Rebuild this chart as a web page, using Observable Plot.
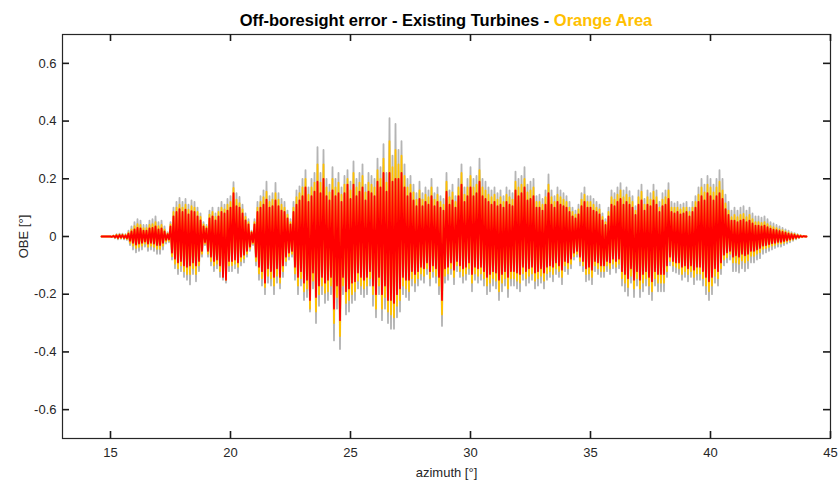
<!DOCTYPE html>
<html><head><meta charset="utf-8">
<script src="https://cdn.jsdelivr.net/npm/d3@7"></script>
<script src="https://cdn.jsdelivr.net/npm/@observablehq/plot@0.6"></script>
<style>body{margin:0;background:#fff}svg{display:block}</style>
</head><body><div id="chart"></div>
<script>
// Sampled azimuth grid (degrees)
const azimuthStart = 14.625;
const azimuthStep = 0.0625;

// OBE [°] signal; after the lead-in, one row per degree (16 samples)
const obeGray = [
  0, 0, 0, 0, 0, 0,
  0, -.002, .004, -.006, .008, -.01, .01, -.008, .01, -.01, .008, -.012, .02, -.03, .035, -.045,
  .05, -.055, .06, -.05, .055, -.045, .04, -.035, .04, -.05, .055, -.045, .06, -.05, .07, -.06,
  .05, -.06, .055, -.045, .035, -.025, .015, -.02, .05, -.08, .1, -.11, .12, -.13, .134, -.12,
  .12, -.14, .13, -.15, .11, -.166, .125, -.13, .12, -.155, .1, -.12, .08, -.07, .05, -.03,
  .04, -.07, .09, -.1, .1, -.12, .08, -.11, .1, -.14, .12, -.15, .11, -.16, .13, -.12,
  .14, -.12, .188, -.11, .15, -.126, .137, -.1, .11, -.09, .08, -.07, .06, -.05, .02, -.03,
  .06, -.1, .12, -.15, .14, -.17, .16, -.2, .19, -.16, .14, -.17, .15, -.2, .186, -.16,
  .15, -.18, .13, -.14, .12, -.1, .09, -.08, .06, -.07, .12, -.15, .16, -.2, .174, -.17,
  .2, -.22, .23, -.21, .17, -.26, .2, -.18, .22, -.3, .31, -.24, .22, -.2, .3, -.23,
  .2, -.22, .18, -.2, .24, -.36, .2, -.25, .22, -.39, .17, -.2, .21, -.27, .23, -.26,
  .19, -.23, .26, -.22, .2, -.18, .22, -.2, .25, -.21, .18, -.2, .22, -.17, .21, -.24,
  .2, -.28, .27, -.2, .24, -.29, .32, -.25, .22, -.3, .41, -.32, .28, -.32, .39, -.28,
  .3, -.26, .33, -.2, .25, -.21, .2, -.22, .21, -.17, .18, -.19, .15, -.17, .19, -.15,
  .15, -.16, .17, -.13, .16, -.17, .2, -.14, .15, -.16, .17, -.2, .14, -.31, .13, -.16,
  .22, -.15, .16, -.13, .18, -.165, .14, -.12, .2, -.14, .25, -.16, .17, -.15, .2, -.13,
  .24, -.19, .2, -.15, .21, -.16, .27, -.15, .2, -.17, .19, -.2, .17, -.19, .16, -.17,
  .17, -.18, .15, -.22, .16, -.19, .14, -.17, .17, -.21, .16, -.17, .15, -.17, .225, -.18,
  .2, -.19, .21, -.15, .24, -.17, .18, -.16, .19, -.15, .2, -.18, .14, -.17, .145, -.16,
  .13, -.18, .16, -.15, .215, -.14, .16, -.155, .14, -.13, .17, -.14, .16, -.165, .15, -.12,
  .14, -.13, .12, -.11, .1, -.08, .09, -.07, .11, -.1, .15, -.12, .17, -.155, .14, -.15,
  .14, -.165, .13, -.12, .12, -.13, .11, -.14, .08, -.14, .06, -.12, .1, -.13, .16, -.11,
  .15, -.125, .17, -.11, .185, -.17, .16, -.19, .17, -.205, .157, -.16, .14, -.21, .105, -.17,
  .16, -.21, .18, -.19, .13, -.17, .16, -.2, .15, -.22, .18, -.17, .16, -.19, .12, -.19,
  .15, -.19, .16, -.14, .185, -.1, .12, -.12, .115, -.125, .12, -.13, .11, -.15, .115, -.14,
  .12, -.155, .1, -.14, .12, -.165, .14, -.15, .17, -.15, .2, -.17, .18, -.2, .21, -.22,
  .2, -.2, .18, -.16, .2, -.17, .23, -.13, .2, -.1, .145, -.09, .12, -.08, .09, -.12,
  .1, -.12, .09, -.125, .1, -.11, .105, -.12, .09, -.11, .1, -.09, .08, -.09, .07, -.08,
  .07, -.075, .065, -.06, .07, -.055, .06, -.05, .05, -.045, .045, -.04, .04, -.035, .035, -.035,
  .03, -.03, .025, -.025, .02, -.02, .015, -.015, .012, -.01, .008, -.006, .005, -.003, .002, 0,
  0
];
const obeOrange = [
  0, 0, 0, 0, 0, 0,
  0, -.001, .003, -.004, .006, -.007, .007, -.006, .007, -.007, .006, -.009, .014, -.022, .025, -.032,
  .036, -.04, .043, -.036, .04, -.032, .029, -.025, .029, -.036, .04, -.032, .043, -.036, .05, -.043,
  .036, -.043, .04, -.032, .025, -.018, .011, -.015, .042, -.068, .085, -.094, .1, -.11, .11, -.1,
  .1, -.12, .11, -.13, .093, -.13, .105, -.11, .1, -.13, .085, -.1, .068, -.06, .042, -.025,
  .034, -.06, .076, -.085, .085, -.1, .068, -.094, .085, -.12, .1, -.13, .094, -.15, .11, -.1,
  .12, -.1, .168, -.094, .128, -.105, .116, -.085, .094, -.076, .068, -.06, .05, -.042, .017, -.025,
  .05, -.085, .1, -.128, .12, -.145, .136, -.175, .155, -.136, .12, -.145, .128, -.17, .15, -.136,
  .128, -.16, .11, -.12, .1, -.085, .076, -.068, .05, -.06, .1, -.128, .136, -.17, .15, -.145,
  .17, -.19, .2, -.18, .145, -.25, .17, -.153, .187, -.26, .25, -.2, .187, -.17, .25, -.195,
  .17, -.19, .153, -.17, .2, -.3, .17, -.21, .187, -.345, .145, -.17, .18, -.23, .2, -.22,
  .16, -.2, .22, -.19, .17, -.153, .187, -.17, .21, -.18, .153, -.17, .187, -.145, .18, -.2,
  .17, -.25, .23, -.17, .2, -.25, .27, -.21, .187, -.26, .33, -.27, .24, -.28, .3, -.24,
  .25, -.22, .28, -.17, .21, -.18, .17, -.19, .18, -.145, .153, -.16, .128, -.145, .16, -.128,
  .128, -.136, .145, -.11, .136, -.145, .17, -.12, .128, -.136, .145, -.17, .12, -.27, .11, -.136,
  .19, -.128, .136, -.11, .153, -.14, .12, -.1, .17, -.12, .22, -.136, .145, -.128, .17, -.11,
  .21, -.16, .17, -.128, .18, -.136, .23, -.128, .17, -.145, .16, -.17, .145, -.16, .136, -.145,
  .145, -.153, .128, -.19, .136, -.16, .12, -.145, .145, -.18, .136, -.145, .128, -.145, .19, -.153,
  .17, -.16, .18, -.128, .2, -.145, .153, -.136, .16, -.128, .17, -.153, .12, -.145, .12, -.136,
  .11, -.153, .136, -.128, .18, -.12, .136, -.13, .12, -.11, .145, -.12, .136, -.14, .128, -.1,
  .12, -.11, .1, -.094, .085, -.068, .076, -.06, .094, -.085, .128, -.1, .145, -.13, .12, -.128,
  .12, -.14, .11, -.1, .1, -.11, .094, -.12, .068, -.12, .05, -.1, .085, -.11, .136, -.094,
  .128, -.105, .145, -.094, .16, -.145, .136, -.16, .145, -.175, .135, -.136, .12, -.18, .09, -.145,
  .136, -.18, .155, -.16, .11, -.145, .136, -.17, .128, -.19, .155, -.145, .136, -.16, .1, -.16,
  .128, -.16, .136, -.12, .16, -.085, .1, -.1, .1, -.105, .1, -.11, .094, -.13, .1, -.12,
  .1, -.13, .085, -.12, .1, -.14, .12, -.128, .145, -.128, .17, -.145, .153, -.17, .18, -.19,
  .17, -.17, .153, -.136, .17, -.145, .19, -.11, .16, -.08, .115, -.072, .09, -.06, .067, -.09,
  .075, -.09, .067, -.094, .075, -.083, .078, -.09, .067, -.083, .075, -.067, .06, -.067, .05, -.06,
  .05, -.054, .047, -.043, .05, -.04, .043, -.036, .036, -.032, .032, -.029, .029, -.025, .025, -.025,
  .022, -.022, .018, -.018, .014, -.014, .011, -.011, .009, -.007, .006, -.004, .004, -.002, .001, 0,
  0
];
const obeRed = [
  0, 0, 0, 0, 0, 0,
  0, -.001, .002, -.003, .004, -.005, .005, -.004, .005, -.005, .004, -.006, .01, -.015, .018, -.022,
  .025, -.028, .03, -.025, .028, -.022, .02, -.018, .02, -.025, .028, -.022, .03, -.025, .035, -.03,
  .025, -.03, .028, -.022, .018, -.012, .008, -.01, .035, -.056, .07, -.077, .085, -.09, .095, -.085,
  .085, -.1, .093, -.105, .077, -.1, .088, -.09, .085, -.1, .07, -.085, .056, -.05, .035, -.02,
  .028, -.05, .063, -.07, .07, -.085, .056, -.08, .07, -.1, .085, -.14, .08, -.15, .09, -.085,
  .1, -.085, .15, -.08, .105, -.09, .1, -.07, .08, -.063, .056, -.05, .042, -.035, .014, -.02,
  .042, -.07, .085, -.105, .1, -.12, .11, -.16, .128, -.11, .1, -.12, .105, -.14, .125, -.11,
  .105, -.14, .09, -.1, .085, -.07, .063, -.056, .042, -.05, .085, -.105, .11, -.14, .125, -.12,
  .14, -.16, .17, -.15, .12, -.22, .14, -.125, .155, -.21, .19, -.17, .15, -.14, .2, -.16,
  .14, -.15, .125, -.14, .16, -.25, .14, -.17, .15, -.29, .12, -.14, .15, -.19, .18, -.18,
  .13, -.16, .18, -.155, .14, -.125, .155, -.14, .17, -.15, .125, -.14, .155, -.12, .15, -.17,
  .14, -.2, .19, -.14, .17, -.2, .22, -.17, .155, -.22, .22, -.22, .19, -.23, .2, -.2,
  .2, -.18, .22, -.14, .17, -.15, .14, -.15, .15, -.12, .125, -.13, .105, -.12, .13, -.105,
  .105, -.11, .12, -.09, .11, -.12, .14, -.1, .105, -.11, .12, -.14, .1, -.22, .09, -.11,
  .155, -.105, .11, -.09, .125, -.115, .1, -.085, .14, -.1, .18, -.11, .12, -.105, .14, -.09,
  .17, -.13, .14, -.105, .15, -.11, .19, -.105, .14, -.12, .13, -.14, .12, -.13, .11, -.12,
  .12, -.125, .105, -.15, .11, -.13, .1, -.12, .12, -.14, .11, -.12, .105, -.12, .16, -.125,
  .14, -.13, .15, -.105, .17, -.12, .125, -.11, .13, -.105, .14, -.125, .1, -.12, .1, -.11,
  .09, -.125, .11, -.105, .15, -.1, .11, -.105, .1, -.09, .12, -.1, .11, -.115, .105, -.085,
  .1, -.09, .085, -.077, .07, -.056, .063, -.05, .077, -.07, .105, -.085, .12, -.11, .1, -.105,
  .1, -.115, .09, -.085, .085, -.09, .077, -.1, .056, -.1, .04, -.085, .07, -.09, .11, -.077,
  .105, -.085, .12, -.077, .13, -.12, .11, -.13, .12, -.145, .11, -.11, .1, -.15, .075, -.12,
  .11, -.15, .125, -.13, .09, -.12, .11, -.14, .105, -.155, .125, -.12, .11, -.13, .085, -.13,
  .105, -.13, .11, -.1, .13, -.07, .085, -.085, .08, -.09, .085, -.09, .077, -.105, .08, -.1,
  .085, -.11, .07, -.1, .085, -.115, .1, -.105, .12, -.105, .14, -.12, .125, -.14, .15, -.155,
  .14, -.14, .125, -.11, .14, -.12, .15, -.09, .13, -.063, .095, -.055, .075, -.05, .055, -.07,
  .055, -.065, .05, -.07, .055, -.06, .058, -.065, .05, -.06, .055, -.05, .045, -.05, .038, -.045,
  .038, -.04, .035, -.032, .038, -.03, .032, -.027, .027, -.024, .024, -.022, .022, -.019, .019, -.019,
  .016, -.016, .013, -.013, .01, -.01, .008, -.008, .006, -.005, .004, -.003, .002, -.001, .001, 0,
  0
];

const xTicks = [15, 20, 25, 30, 35, 40, 45];
const yTicks = [-0.6, -0.4, -0.2, 0, 0.2, 0.4, 0.6];
const xDomain = [13, 45];
const yDomain = [-0.7, 0.7];
const titleMain = "Off-boresight error - Existing Turbines - ";
const titleArea = "Orange Area";

const rows = obeGray.map((g, i) => ({
  az: azimuthStart + i * azimuthStep,
  gray: g, orange: obeOrange[i], red: obeRed[i]
}));

// layout
const W = 839, H = 482, mL = 62, mR = 9, mT = 34, mB = 44;
const innerW = W - mL - mR, innerH = H - mT - mB;
const tickLen = 7;
const ink = "#262626";
const font = "'Liberation Sans', Arial, Helvetica, sans-serif";
const fmt = d => String(d);
const lineStyle = {x: "az", strokeWidth: 1.8, strokeLinejoin: "round"};
// tick length expressed in data units of each scale
const yTickLen = tickLen * (yDomain[1] - yDomain[0]) / innerH;
const xTickLen = tickLen * (xDomain[1] - xDomain[0]) / innerW;
const tickStyle = {stroke: "#1a1a1a", strokeWidth: 1.6};

const chart = Plot.plot({
  width: W, height: H,
  marginLeft: mL, marginRight: mR, marginTop: mT, marginBottom: mB,
  style: {fontFamily: font, fontSize: "13px", color: ink, background: "#fff", overflow: "visible"},
  x: {domain: xDomain},
  y: {domain: yDomain},
  marks: [
    Plot.lineY(rows, {...lineStyle, y: "gray", stroke: "#b4b4b4"}),
    Plot.lineY(rows, {...lineStyle, y: "orange", stroke: "#ffc000"}),
    Plot.lineY(rows, {...lineStyle, y: "red", stroke: "#ff0000"}),
    Plot.frame({stroke: ink, strokeWidth: 1.2}),
    // MATLAB-style inward ticks on all four sides
    Plot.ruleX(xTicks, {x: d => d, y1: yDomain[0], y2: yDomain[0] + yTickLen, ...tickStyle}),
    Plot.ruleX(xTicks, {x: d => d, y1: yDomain[1], y2: yDomain[1] - yTickLen, ...tickStyle}),
    Plot.ruleY(yTicks, {y: d => d, x1: xDomain[0], x2: xDomain[0] + xTickLen, ...tickStyle}),
    Plot.ruleY(yTicks, {y: d => d, x1: xDomain[1], x2: xDomain[1] - xTickLen, ...tickStyle}),
    Plot.axisX(xTicks, {anchor: "bottom", tickSize: 0, tickPadding: 9, tickFormat: fmt, fill: ink,
      label: "azimuth [°]", labelAnchor: "center", labelArrow: "none", labelOffset: 38}),
    Plot.axisY(yTicks, {anchor: "left", tickSize: 0, tickPadding: 6, tickFormat: fmt, fill: ink,
      label: "OBE [°]", labelAnchor: "center", labelArrow: "none", labelOffset: 44})
  ]
});

const svg = d3.select(chart);
const title = svg.append("text")
  .attr("x", mL + innerW / 2).attr("y", 26)
  .attr("text-anchor", "middle")
  .attr("font-family", font)
  .attr("font-size", "16.5px")
  .attr("font-weight", "bold")
  .attr("fill", "#000");
title.append("tspan").text(titleMain);
title.append("tspan").attr("fill", "#ffc000").text(titleArea);

document.getElementById("chart").append(chart);
</script>
</body></html>
